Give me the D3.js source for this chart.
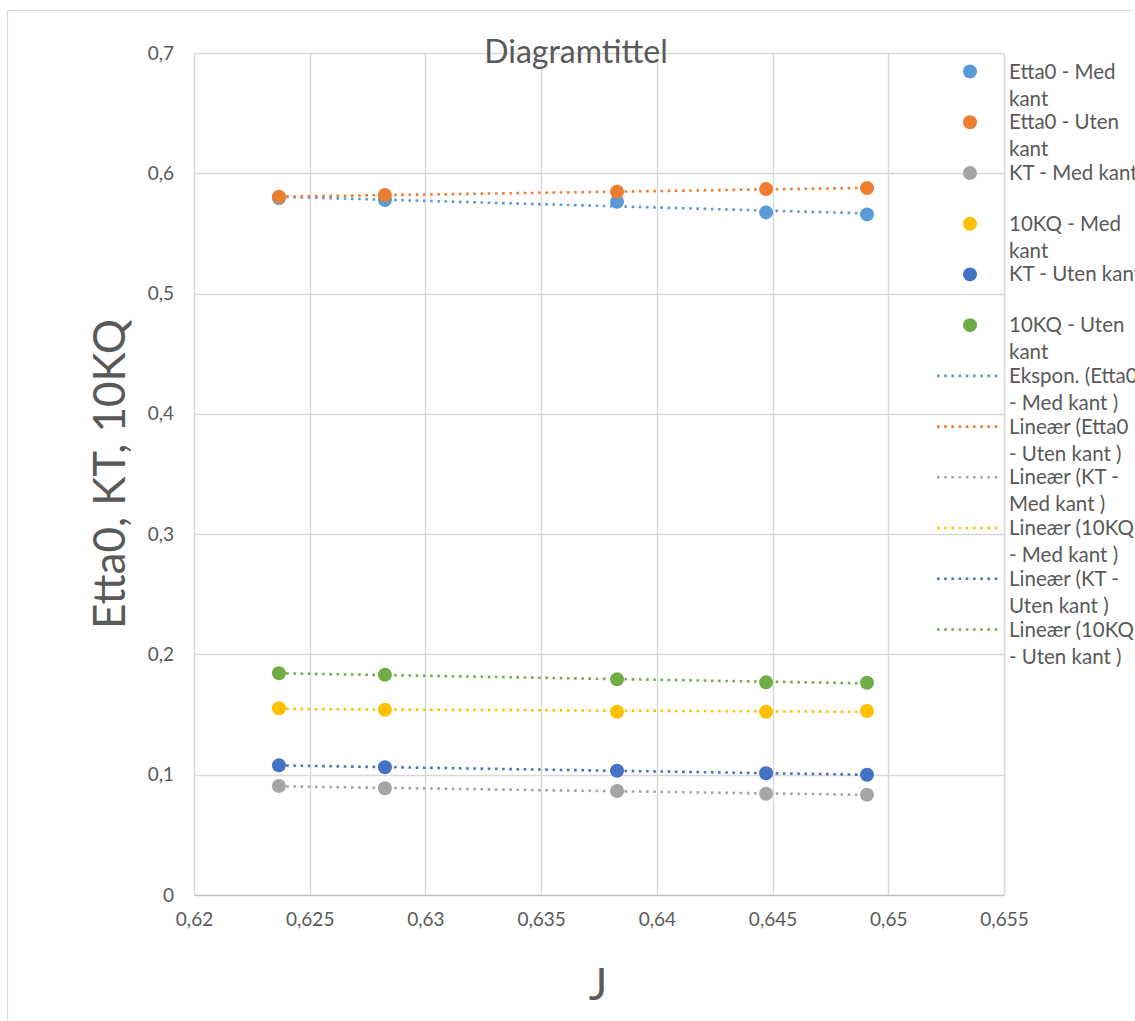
<!DOCTYPE html>
<html>
<head>
<meta charset="utf-8">
<script src="https://cdn.jsdelivr.net/npm/d3@7"></script>
<style>
  body { margin: 0; background: #fff; }
  text { font-family: Lato, "Open Sans", sans-serif; fill: #595959; }
</style>
</head>
<body>
<svg id="chart"></svg>
<script>
// J values (x) and the six measured series
const jValues = [0.62367, 0.62825, 0.63828, 0.64472, 0.64908];
const etta0Med = [0.5794, 0.5777, 0.5763, 0.5675, 0.5658];
const etta0Uten = [0.5805, 0.5819, 0.5846, 0.5869, 0.5877];
const ktMed = [0.0906, 0.0887, 0.0865, 0.0842, 0.0834];
const kq10Med = [0.1552, 0.1540, 0.1524, 0.1524, 0.1530];
const ktUten = [0.1078, 0.1062, 0.1033, 0.1012, 0.1000];
const kq10Uten = [0.1843, 0.1831, 0.1793, 0.1768, 0.1765];

const xTicks = [0.62, 0.625, 0.63, 0.635, 0.64, 0.645, 0.65, 0.655];
const yTicks = [0, 0.1, 0.2, 0.3, 0.4, 0.5, 0.6, 0.7];

const seriesNames = ['Etta0 - Med kant', 'Etta0 - Uten kant', 'KT - Med kant', '10KQ - Med kant', 'KT - Uten kant', '10KQ - Uten kant'];
const seriesColors = ['#5B9BD5', '#ED7D31', '#A5A5A5', '#FFC000', '#4472C4', '#70AD47'];
const trendTypes = ['exp', 'lin', 'lin', 'lin', 'lin', 'lin'];
const legendLabels = [
  ['Etta0 - Med', 'kant'], ['Etta0 - Uten', 'kant'], ['KT - Med kant'],
  ['10KQ - Med', 'kant'], ['KT - Uten kant'], ['10KQ - Uten', 'kant'],
  ['Ekspon. (Etta0', '- Med kant )'], ['Lineær (Etta0', '- Uten kant )'], ['Lineær (KT -', 'Med kant )'],
  ['Lineær (10KQ', '- Med kant )'], ['Lineær (KT -', 'Uten kant )'], ['Lineær (10KQ', '- Uten kant )']
];

const allValues = [etta0Med, etta0Uten, ktMed, kq10Med, ktUten, kq10Uten];
const series = allValues.map((vals, i) => ({
  name: seriesNames[i], color: seriesColors[i], trend: trendTypes[i],
  points: vals.map((v, k) => ({ x: jValues[k], y: v }))
}));

const W = 1135, H = 1021;
const svg = d3.select('#chart').attr('width', W).attr('height', H);

const xScale = d3.scaleLinear().domain([0.62, 0.655]).range([194, 1004]);
const yScale = d3.scaleLinear().domain([0, 0.7]).range([895, 53]);
const fmt = (d) => String(+d.toFixed(3)).replace('.', ',');

// chart border (top + left visible)
svg.append('path')
  .attr('d', `M7.5,${H + 5} V10.5 H1133`)
  .attr('fill', 'none').attr('stroke', '#d9d9d9').attr('stroke-width', 1.2);

// gridlines
svg.append('g').selectAll('line').data(yTicks.filter(d => d > 0)).enter().append('line')
  .attr('x1', xScale(0.62)).attr('x2', xScale(0.655))
  .attr('y1', d => Math.round(yScale(d)) + 0.5).attr('y2', d => Math.round(yScale(d)) + 0.5)
  .attr('stroke', '#d9d9d9').attr('stroke-width', 1.5);
svg.append('g').selectAll('line').data(xTicks).enter().append('line')
  .attr('x1', d => Math.round(xScale(d)) + 0.5).attr('x2', d => Math.round(xScale(d)) + 0.5)
  .attr('y1', yScale(0.7)).attr('y2', yScale(0))
  .attr('stroke', '#d9d9d9').attr('stroke-width', 1.5);

// axes
const xAxis = d3.axisBottom(xScale).tickValues(xTicks).tickFormat(fmt).tickSize(0).tickPadding(18);
const yAxis = d3.axisLeft(yScale).tickValues(yTicks).tickFormat(fmt).tickSize(0).tickPadding(20);
const gx = svg.append('g').attr('transform', `translate(0,${yScale(0)})`).call(xAxis);
const gy = svg.append('g').attr('transform', `translate(${xScale(0.62)},0)`).call(yAxis);
gy.select('.domain').remove();
gx.select('.domain').attr('stroke', '#bfbfbf').attr('stroke-width', 1.5);
[gx, gy].forEach(g => g.selectAll('text').style('font-size', '19px').attr('fill', '#595959'));
gx.selectAll('text').attr('dy', '0.71em');

// trendlines: least squares, exponential fit for Etta0 - Med kant
function fit(points, type) {
  const xs = points.map(p => p.x);
  const ys = points.map(p => type === 'exp' ? Math.log(p.y) : p.y);
  const mx = d3.mean(xs), my = d3.mean(ys);
  const b = d3.sum(xs, (x, i) => (x - mx) * (ys[i] - my)) / d3.sum(xs, x => (x - mx) ** 2);
  const a = my - b * mx;
  return x => type === 'exp' ? Math.exp(a + b * x) : a + b * x;
}
const xExt = d3.extent(jValues);
const trendLine = d3.line().x(d => xScale(d.x)).y(d => yScale(d.y));
series.forEach(s => {
  const f = fit(s.points, s.trend);
  const pts = d3.range(0, 21).map(i => {
    const x = xExt[0] + (xExt[1] - xExt[0]) * i / 20;
    return { x: x, y: f(x) };
  });
  svg.append('path').datum(pts)
    .attr('d', trendLine)
    .attr('fill', 'none').attr('stroke', s.color)
    .attr('stroke-width', 2.6).attr('stroke-dasharray', '2.6 4.6');
});

// markers
series.forEach(s => {
  svg.append('g').selectAll('circle').data(s.points).enter().append('circle')
    .attr('cx', d => xScale(d.x)).attr('cy', d => yScale(d.y))
    .attr('r', 7).attr('fill', s.color);
});

// title
svg.append('text').attr('x', 576).attr('y', 63).attr('text-anchor', 'middle')
  .style('font-size', '32px').text('Diagramtittel');

// axis titles
svg.append('text').attr('x', 598).attr('y', 1000).attr('text-anchor', 'middle')
  .style('font-size', '44px').text('J');
svg.append('text').attr('transform', 'translate(125,474) rotate(-90)').attr('text-anchor', 'middle')
  .style('font-size', '44px').text('Etta0, KT, 10KQ');

// legend
const legendY = d3.scaleLinear().domain([0, 11]).range([71.5, 629.5]);
const legend = svg.append('g');
legendLabels.forEach((lines, i) => {
  const y = legendY(i);
  const color = seriesColors[i % 6];
  if (i < 6) {
    legend.append('circle').attr('cx', 970).attr('cy', y).attr('r', 7).attr('fill', color);
  } else {
    legend.append('line').attr('x1', 937).attr('x2', 1001).attr('y1', y).attr('y2', y)
      .attr('stroke', color).attr('stroke-width', 2.6).attr('stroke-dasharray', '2.6 4.6');
  }
  const t = legend.append('text').attr('x', 1009).attr('y', y + 7).style('font-size', '20.5px');
  lines.forEach((ln, k) => {
    t.append('tspan').attr('x', 1009).attr('dy', k === 0 ? 0 : 27).text(ln);
  });
});
</script>
</body>
</html>
